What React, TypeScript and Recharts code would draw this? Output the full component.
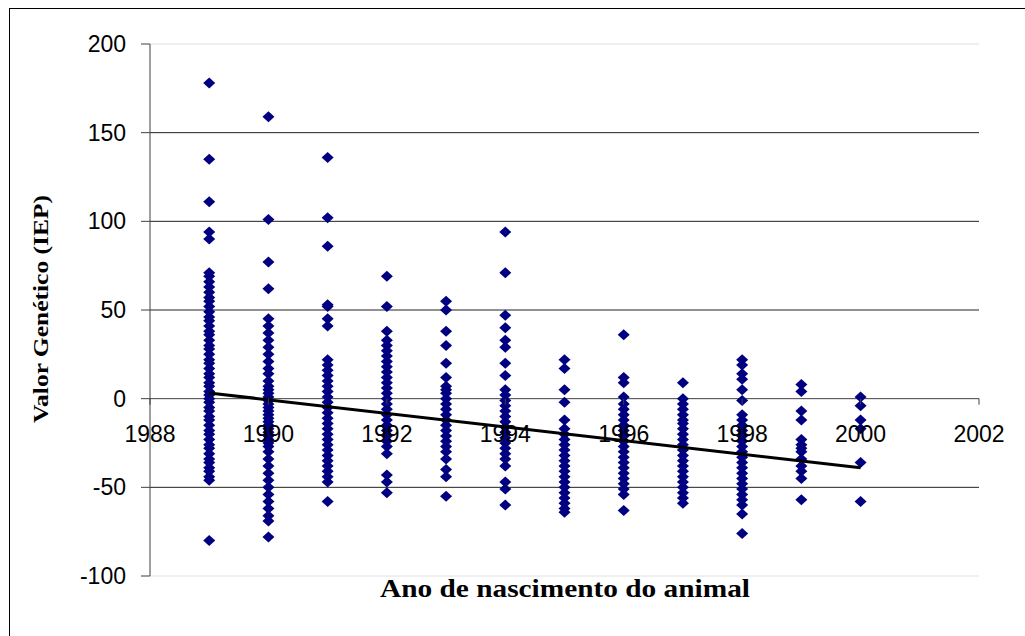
import React from "react";
import {
  ScatterChart,
  Scatter,
  XAxis,
  YAxis,
  ReferenceLine,
} from "recharts";

// Valor genético (IEP) por ano de nascimento
const y1989 = [178, 135, 111, 94, 90, 71, 69, 66, 63, 60, 57, 55, 52, 49, 46, 44, 41, 38, 36, 33, 30, 28, 25, 22, 20, 17, 14, 12, 9, 7, 4, 2, 0, -2, -5, -7, -10, -12, -15, -18, -20, -23, -26, -28, -31, -34, -36, -39, -41, -44, -46, -80];
const y1990 = [159, 101, 77, 62, 45, 41, 37, 33, 29, 25, 21, 17, 14, 10, 7, 5, 3, 1, -1, -3, -5, -7, -9, -11, -13, -15, -17, -19, -21, -23, -25, -27, -30, -34, -38, -42, -46, -50, -54, -58, -62, -66, -69, -78];
const y1991 = [136, 102, 86, 53, 52, 45, 41, 22, 19, 16, 13, 10, 7, 4, 1, -2, -5, -8, -11, -14, -17, -20, -23, -26, -29, -32, -35, -38, -41, -44, -47, -58];
const y1992 = [69, 52, 38, 33, 30, 27, 24, 21, 18, 15, 12, 9, 6, 3, 0, -3, -6, -9, -12, -15, -18, -21, -24, -27, -31, -43, -47, -53];
const y1993 = [55, 50, 38, 30, 20, 12, 7, 5, 3, 0, -3, -6, -9, -12, -15, -18, -21, -24, -27, -30, -34, -40, -44, -55];
const y1994 = [94, 71, 47, 40, 33, 29, 20, 13, 5, 2, -1, -4, -7, -10, -13, -16, -19, -22, -25, -28, -31, -34, -38, -47, -51, -60];
const y1995 = [22, 17, 5, -2, -12, -17, -20, -23, -26, -29, -32, -35, -38, -41, -44, -47, -50, -53, -56, -59, -62, -64];
const y1996 = [36, 12, 9, 1, -3, -6, -9, -12, -15, -18, -21, -24, -27, -30, -33, -36, -39, -42, -45, -48, -51, -54, -63];
const y1997 = [9, 0, -3, -6, -9, -12, -14, -17, -20, -23, -26, -29, -32, -35, -38, -41, -44, -47, -50, -53, -56, -59];
const y1998 = [22, 19, 14, 11, 5, -1, -9, -12, -15, -18, -21, -24, -27, -30, -33, -36, -39, -42, -45, -48, -51, -54, -57, -60, -65, -76];
const y1999 = [8, 4, -7, -12, -23, -26, -28, -30, -34, -38, -41, -45, -57];
const y2000 = [1, -4, -12, -17, -36, -58];

const years = [1989, 1990, 1991, 1992, 1993, 1994, 1995, 1996, 1997, 1998, 1999, 2000];
const values = [y1989, y1990, y1991, y1992, y1993, y1994, y1995, y1996, y1997, y1998, y1999, y2000];

// linha de tendência (início e fim)
const trendX = [1989, 2000];
const trendY = [3.2, -39];

const xTicks = [1988, 1990, 1992, 1994, 1996, 1998, 2000, 2002];
const yTicks = [-100, -50, 0, 50, 100, 150, 200];
const gridValues = [150, 100, 50, -50];
const borderValues = [200, -100];

const points = years.flatMap((yr, i) => values[i].map((v) => ({ x: yr, y: v })));
const trend = trendX.map((x, i) => ({ x, y: trendY[i] }));

const W = 1025;
const H = 636;
const TOP = 44;
const PLOT_H = 532;
const Y_MIN = -100;
const Y_MAX = 200;
const zeroY = TOP + (PLOT_H * Y_MAX) / (Y_MAX - Y_MIN);

const Diamond = (props: any) => {
  const { cx, cy } = props;
  if (cx == null || cy == null) return null;
  return (
    <polygon
      points={`${cx},${cy - 5.5} ${cx + 6},${cy} ${cx},${cy + 5.5} ${cx - 6},${cy}`}
      fill="#000080"
    />
  );
};

const XTick = (props: any) => {
  const { x, payload } = props;
  return (
    <g>
      <line x1={x} x2={x} y1={zeroY} y2={zeroY + 6} stroke="#404040" />
      <text
        x={x}
        y={zeroY + 43}
        textAnchor="middle"
        fontSize={23}
        fontFamily="'Liberation Sans', Arial, sans-serif"
        fill="#000"
      >
        {payload.value}
      </text>
    </g>
  );
};

export default function App() {
  return (
    <div
      style={{
        position: "absolute",
        left: 0,
        top: 0,
        width: W,
        height: H,
        overflow: "hidden",
        background: "#fff",
      }}
    >
      <div
        style={{
          position: "absolute",
          left: 9,
          top: 8,
          width: 1100,
          height: 700,
          border: "1px solid #000",
        }}
      />
      <div style={{ position: "absolute", left: 0, top: 0 }}>
        <ScatterChart
          width={W}
          height={H}
          margin={{ top: TOP, right: 46, bottom: 30, left: 0 }}
        >
          <XAxis
            type="number"
            dataKey="x"
            domain={[1988, 2002]}
            ticks={xTicks}
            axisLine={false}
            tickLine={false}
            tick={<XTick />}
            interval={0}
            height={30}
          />
          <YAxis
            type="number"
            dataKey="y"
            domain={[Y_MIN, Y_MAX]}
            ticks={yTicks}
            interval={0}
            width={150}
            axisLine={{ stroke: "#404040" }}
            tickLine={{ stroke: "#404040" }}
            tickSize={9}
            tickMargin={15}
            tick={{
              fill: "#000",
              fontSize: 23,
              fontFamily: "'Liberation Sans', Arial, sans-serif",
            }}
          />
          {borderValues.map((v) => (
            <ReferenceLine key={`b${v}`} y={v} stroke="#e0e0e0" />
          ))}
          {gridValues.map((v) => (
            <ReferenceLine key={`g${v}`} y={v} stroke="#222" />
          ))}
          <ReferenceLine y={0} stroke="#404040" />
          <Scatter
            data={points}
            shape={<Diamond />}
            isAnimationActive={false}
          />
          <Scatter
            data={trend}
            line={{ stroke: "#000", strokeWidth: 3 }}
            shape={() => null}
            isAnimationActive={false}
          />
        </ScatterChart>
      </div>
      <svg
        width={W}
        height={H}
        style={{ position: "absolute", left: 0, top: 0, pointerEvents: "none" }}
      >
        <text
          x={565}
          y={597}
          textAnchor="middle"
          fontSize={25}
          fontWeight="bold"
          fontFamily="'Liberation Serif', 'Times New Roman', serif"
          textLength={370}
          lengthAdjust="spacingAndGlyphs"
        >
          Ano de nascimento do animal
        </text>
        <text
          transform="translate(48, 309) rotate(-90)"
          textAnchor="middle"
          fontSize={22}
          fontWeight="bold"
          fontFamily="'Liberation Serif', 'Times New Roman', serif"
          textLength={228}
          lengthAdjust="spacingAndGlyphs"
        >
          Valor Genético (IEP)
        </text>
      </svg>
    </div>
  );
}
